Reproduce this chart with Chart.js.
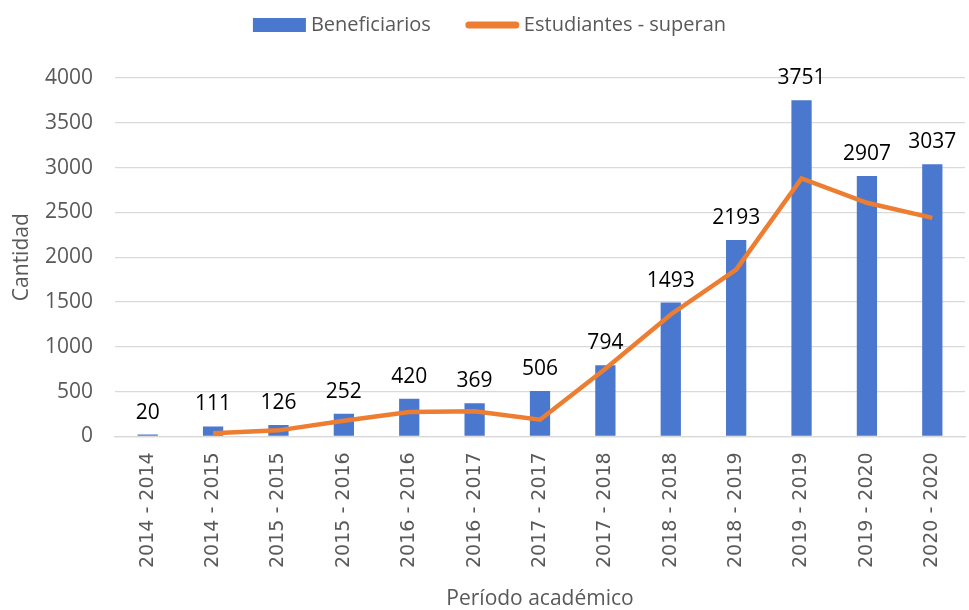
<!DOCTYPE html>
<html>
<head>
<meta charset="utf-8">
<script src="https://cdn.jsdelivr.net/npm/chart.js@4/dist/chart.umd.min.js"></script>
<style>
html,body{margin:0;padding:0;background:#fff;}
#wrap{width:969px;height:610px;position:relative;}
</style>
</head>
<body>
<div id="wrap"><canvas id="c" width="969" height="610"></canvas></div>
<script>
const categories = ["2014 - 2014","2014 - 2015","2015 - 2015","2015 - 2016","2016 - 2016","2016 - 2017","2017 - 2017","2017 - 2018","2018 - 2018","2018 - 2019","2019 - 2019","2019 - 2020","2020 - 2020"];
const beneficiarios = [20,111,126,252,420,369,506,794,1493,2193,3751,2907,3037];
const estudiantesSuperan = [null,35,67,175,272,279,186,755,1360,1862,2879,2607,2439];
const yTicks = [0,500,1000,1500,2000,2500,3000,3500,4000];
const seriesNames = ["Beneficiarios","Estudiantes - superan"];

const FONT = "'Open Sans','Noto Sans','Liberation Sans',sans-serif";
const GRAY = '#595959';
const BLUE = '#4a78cf';
const ORANGE = '#ed7d31';

const barLabels = {
  id: 'barLabels',
  afterDatasetsDraw(chart) {
    const ctx = chart.ctx;
    const meta = chart.getDatasetMeta(0);
    ctx.save();
    ctx.font = "21px " + FONT;
    ctx.fillStyle = '#000';
    ctx.textAlign = 'center';
    ctx.textBaseline = 'alphabetic';
    meta.data.forEach((bar, i) => {
      ctx.fillText(String(beneficiarios[i]), bar.x, bar.y - 16);
    });
    ctx.restore();
  }
};

const customLegend = {
  id: 'customLegend',
  afterDraw(chart) {
    const ctx = chart.ctx;
    ctx.save();
    ctx.font = "20px " + FONT;
    ctx.textBaseline = 'middle';
    ctx.textAlign = 'left';
    const sw = 53, gapText = 5, gapItems = 35;
    const w0 = ctx.measureText(seriesNames[0]).width;
    const w1 = ctx.measureText(seriesNames[1]).width;
    const total = sw + gapText + w0 + gapItems + sw + gapText + w1;
    let x = chart.width / 2 + 5 - total / 2;
    const cy = 25;
    ctx.fillStyle = BLUE;
    ctx.fillRect(x, cy - 7, sw, 14);
    x += sw + gapText;
    ctx.fillStyle = GRAY;
    ctx.fillText(seriesNames[0], x, cy);
    x += w0 + gapItems;
    ctx.strokeStyle = ORANGE;
    ctx.lineWidth = 7;
    ctx.lineCap = 'round';
    ctx.beginPath();
    ctx.moveTo(x + 3, cy);
    ctx.lineTo(x + sw - 3, cy);
    ctx.stroke();
    x += sw + gapText;
    ctx.fillStyle = GRAY;
    ctx.fillText(seriesNames[1], x, cy);
    ctx.restore();
  }
};

new Chart(document.getElementById('c'), {
  data: {
    labels: categories,
    datasets: [
      {
        type: 'bar',
        label: seriesNames[0],
        data: beneficiarios,
        backgroundColor: BLUE,
        borderColor: BLUE,
        barPercentage: 0.31,
        categoryPercentage: 1.0,
        order: 2
      },
      {
        type: 'line',
        label: seriesNames[1],
        data: estudiantesSuperan,
        borderColor: ORANGE,
        backgroundColor: ORANGE,
        borderWidth: 4.5,
        pointRadius: 0,
        tension: 0,
        spanGaps: false,
        order: 1
      }
    ]
  },
  options: {
    responsive: false,
    animation: false,
    layout: { padding: { left: 9, right: 4, top: 78, bottom: 0 } },
    plugins: {
      legend: { display: false },
      tooltip: { enabled: false }
    },
    scales: {
      x: {
        grid: { display: false },
        border: { display: true, color: '#d9d9d9', width: 1.3 },
        ticks: {
          font: { size: 19, family: "'DejaVu Sans','Liberation Sans',sans-serif" },
          color: GRAY,
          maxRotation: 90,
          minRotation: 90,
          padding: 8
        },
        title: {
          display: true,
          text: 'Período académico',
          font: { size: 21, family: FONT, lineHeight: 1 },
          color: GRAY,
          padding: { top: 13, bottom: 0 }
        }
      },
      y: {
        min: 0,
        max: 4000,
        afterBuildTicks(axis) { axis.ticks = yTicks.map(v => ({ value: v })); },
        afterFit(axis) { axis.width = 106; },
        grid: { color: '#d9d9d9', lineWidth: 1.3, drawTicks: false },
        border: { display: false },
        ticks: {
          font: { size: 21, family: FONT },
          color: GRAY,
          padding: 22,
          callback: (v) => String(v)
        },
        title: {
          display: true,
          text: 'Cantidad',
          font: { size: 21, family: FONT },
          color: GRAY,
          padding: { top: 0, bottom: 10 }
        }
      }
    }
  },
  plugins: [barLabels, customLegend]
});
</script>
</body>
</html>
